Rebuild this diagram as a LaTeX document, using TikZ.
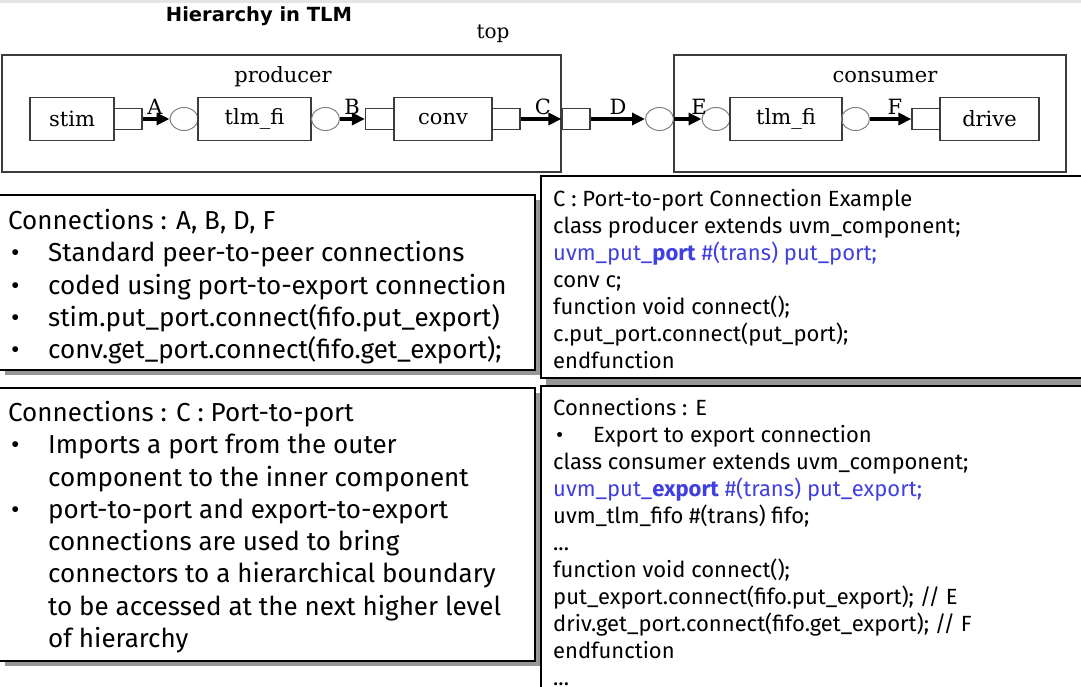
\documentclass[tikz,border=0pt]{standalone}
\usepackage{fontspec}
\setmainfont{Fira Sans}
\newfontfamily\diagfont{DejaVu Serif}
\newfontfamily\titlefont{DejaVu Sans}
\usetikzlibrary{arrows.meta,shapes.geometric}
\definecolor{codeblue}{RGB}{64,64,224}
\definecolor{shadowgray}{RGB}{150,150,150}
\definecolor{linegray}{RGB}{60,60,60}
\newcommand{\bulitem}{\makebox[40pt][l]{\hspace{3pt}\textbullet}}
\newcommand{\bulind}{\hspace*{40pt}}
\tikzset{
  comp/.style={draw=linegray, line width=1.2pt, minimum width=#1, minimum height=43pt, inner sep=0pt, font=\diagfont\fontsize{21}{21}\selectfont},
  portsq/.style={draw=linegray, line width=1.2pt, minimum width=28pt, minimum height=21pt, inner sep=0pt},
  expcirc/.style={draw=gray, line width=1pt, ellipse, minimum width=28pt, minimum height=23pt, inner sep=0pt},
  hier/.style={draw=linegray, line width=1.2pt},
  conn/.style={line width=3.6pt, -{Triangle[length=13pt,width=12pt]}},
  conlabel/.style={font=\diagfont\fontsize{21}{21}\selectfont, inner sep=0pt, anchor=base},
  txtbox/.style={draw=black, line width=1.3pt, fill=white},
  boxshadow/.style={fill=shadowgray},
  bigtext/.style={anchor=north west, align=left, inner sep=0pt, font=\fontsize{26}{32.3}\selectfont},
  codetext/.style={anchor=north west, align=left, inner sep=0pt, font=\fontsize{22}{27}\selectfont},
}
\begin{document}
\begin{tikzpicture}[x=1pt, y=-1pt]
\useasboundingbox (0,0) rectangle (1081,687);
\clip (0,0) rectangle (1081,687);
\fill[gray!20] (0,0) rectangle (1081,3);

% hierarchy diagram
\node[font=\titlefont\bfseries\fontsize{19.5}{19.5}\selectfont] (title) at (259,16) {Hierarchy in TLM};
\node[font=\diagfont\fontsize{20}{20}\selectfont] (toplbl) at (493,34) {top};
\draw[hier] (2,55) rectangle (561,172);
\draw[hier] (674,55) rectangle (1066,172);
\node[font=\diagfont\fontsize{21}{21}\selectfont] (prodlbl) at (283,77) {producer};
\node[font=\diagfont\fontsize{21}{21}\selectfont] (conslbl) at (885,77) {consumer};

\node[comp=84pt] (stim) at (72,119) {stim};
\node[portsq] (stimport) at (128,119) {};
\node[expcirc] (fifoin) at (184,119) {};
\node[comp=113pt] (fifo) at (254.5,119) {tlm\_fi};
\node[expcirc] (fifoout) at (325.5,119) {};
\node[portsq] (convport) at (379.5,119) {};
\node[comp=98pt] (conv) at (443,119) {conv};
\node[portsq] (convout) at (506,119) {};
\node[portsq] (prodport) at (576,119) {};
\node[expcirc] (topexp) at (659.5,119) {};
\node[expcirc] (consexp) at (716,119) {};
\node[comp=112pt] (fifob) at (786,119) {tlm\_fi};
\node[expcirc] (fifobout) at (855.5,119) {};
\node[portsq] (drvport) at (926,119) {};
\node[comp=99pt] (drive) at (989.5,119) {drive};

\draw[conn] (stimport) -- (fifoin);
\draw[conn] (fifoout) -- (convport);
\draw[conn] (convout) -- (prodport);
\draw[conn] (prodport) -- (topexp);
\draw[conn] (topexp) -- (consexp);
\draw[conn] (fifobout) -- (drvport);

\node[conlabel] (labA) at (155,115) {A};
\node[conlabel] (labB) at (352,115) {B};
\node[conlabel] (labC) at (543,115) {C};
\node[conlabel] (labD) at (618,115) {D};
\node[conlabel] (labE) at (699,115) {E};
\node[conlabel] (labF) at (895,115) {F};

% text boxes
\fill[boxshadow] (5,200) rectangle (540,375);
\draw[txtbox] (-2,195) rectangle (535,370);
\fill[boxshadow] (5,393) rectangle (540,666);
\draw[txtbox] (-2,388) rectangle (535,661);
\fill[boxshadow] (546,181) rectangle (1095,386);
\draw[txtbox] (541,176) rectangle (1090,378);
\draw[txtbox] (541,386) rectangle (1090,700);

\node[bigtext] (abdf) at (8,209) {Connections : A, B, D, F\\
\bulitem Standard peer-to-peer connections\\
\bulitem coded using port-to-export connection\\
\bulitem stim.put\_port.connect(fifo.put\_export)\\
\bulitem conv.get\_port.connect(fifo.get\_export);};

\node[bigtext] (portport) at (8,401) {Connections : C : Port-to-port\\
\bulitem Imports a port from the outer\\
\bulind component to the inner component\\
\bulitem port-to-port and export-to-export\\
\bulind connections are used to bring\\
\bulind connectors to a hierarchical boundary\\
\bulind to be accessed at the next higher level\\
\bulind of hierarchy};

\node[codetext] (prodcode) at (553,189) {C : Port-to-port Connection Example\\
class producer extends uvm\_component;\\
{\color{codeblue}uvm\_put\_\textbf{port} \#(trans) put\_port;}\\
conv c;\\
function void connect();\\
c.put\_port.connect(put\_port);\\
endfunction};

\node[codetext] (conscode) at (553,398) {Connections : E\\
\bulitem Export to export connection\\
class consumer extends uvm\_component;\\
{\color{codeblue}uvm\_put\_\textbf{export} \#(trans) put\_export;}\\
uvm\_tlm\_fifo \#(trans) fifo;\\
...\\
function void connect();\\
put\_export.connect(fifo.put\_export); // E\\
driv.get\_port.connect(fifo.get\_export); // F\\
endfunction\\
...};
\end{tikzpicture}
\end{document}
